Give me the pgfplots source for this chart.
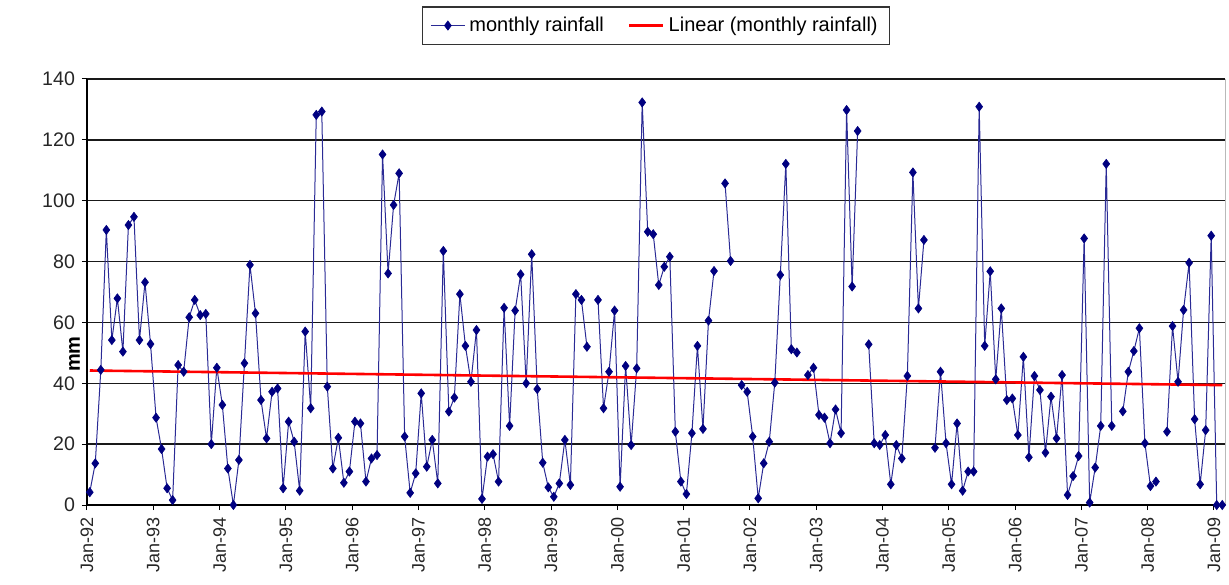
\documentclass[border=0pt]{standalone}
\usepackage{pgfplots}
\usepackage{pgfplotstable}
\pgfplotsset{compat=1.18}
\usepackage{fontspec}
\setmainfont{Liberation Sans}
\definecolor{rainblue}{HTML}{000080}
\definecolor{rainline}{HTML}{2A2A95}

\pgfplotstableread{
m v
0 4.2
1 13.7
2 44.4
3 90.4
4 54.2
5 67.9
6 50.4
7 92
8 94.7
9 54.2
10 73.2
11 52.9
12 28.7
13 18.4
14 5.5
15 1.6
16 46
17 43.8
18 61.7
19 67.4
20 62.4
21 62.8
22 20
23 45.1
24 32.9
25 12
26 0
27 14.8
28 46.6
29 78.9
30 63
31 34.5
32 21.9
33 37.2
34 38.3
35 5.5
36 27.4
37 20.8
38 4.7
39 57
40 31.8
41 128.2
42 129.3
43 38.9
44 12
45 22.1
46 7.3
47 11
48 27.4
49 26.8
50 7.7
51 15.3
52 16.4
53 115.2
54 76.1
55 98.6
56 109
57 22.5
58 4
59 10.4
60 36.7
61 12.6
62 21.4
63 7.1
64 83.5
65 30.7
66 35.3
67 69.3
68 52.3
69 40.5
70 57.5
71 2
72 15.9
73 16.7
74 7.7
75 64.8
76 26
77 63.9
78 75.8
79 40
80 82.4
81 38.1
82 13.9
83 5.8
84 2.7
85 7.1
86 21.4
87 6.6
88 69.3
89 67.4
90 52
91 nan
92 67.4
93 31.8
94 43.8
95 63.9
96 6
97 45.7
98 19.7
99 44.9
100 132.3
101 89.8
102 89
103 72.3
104 78.3
105 81.6
106 24.1
107 7.7
108 3.6
109 23.6
110 52.3
111 25
112 60.6
113 76.9
114 nan
115 105.7
116 80.2
117 nan
118 39.4
119 37.2
120 22.5
121 2.2
122 13.7
123 20.8
124 40.2
125 75.6
126 112.1
127 51.2
128 50.1
129 nan
130 42.7
131 45.1
132 29.6
133 28.7
134 20.3
135 31.4
136 23.6
137 129.8
138 71.8
139 122.9
140 nan
141 52.8
142 20.3
143 19.7
144 23
145 6.8
146 19.7
147 15.3
148 42.4
149 109.3
150 64.6
151 87.1
152 nan
153 18.8
154 43.8
155 20.3
156 6.8
157 26.8
158 4.7
159 11
160 11
161 130.9
162 52.3
163 76.8
164 41.3
165 64.6
166 34.5
167 35
168 23
169 48.7
170 15.7
171 42.4
172 37.8
173 17.2
174 35.6
175 21.9
176 42.7
177 3.3
178 9.5
179 16.1
180 87.6
181 0.8
182 12.3
183 26
184 112.1
185 26
186 nan
187 30.8
188 43.8
189 50.6
190 58.1
191 20.3
192 6.2
193 7.7
194 nan
195 24.1
196 58.8
197 40.5
198 64.1
199 79.6
200 28.2
201 6.8
202 24.6
203 88.5
204 0
205 0
}\rain

\pgfplotstableread{
m v
0.5 44.2
205.5 39.4
}\trend

\begin{document}
\begin{tikzpicture}
\begin{axis}[
  width=569pt, height=213pt, scale only axis,
  xmin=0, xmax=206, ymin=0, ymax=140,
  ytick={0,20,...,140},
  xtick={0,12,...,204},
  xticklabels={Jan-92,Jan-93,Jan-94,Jan-95,Jan-96,Jan-97,Jan-98,Jan-99,Jan-00,Jan-01,Jan-02,Jan-03,Jan-04,Jan-05,Jan-06,Jan-07,Jan-08,Jan-09},
  xticklabel style={rotate=90, anchor=east, font=\fontsize{9}{10}\selectfont, color=black!85},
  yticklabel style={font=\fontsize{9.8}{11}\selectfont, color=black!85},
  /pgf/number format/assume math mode=true,
  axis x line*=bottom, axis y line*=left,
  axis line style={black, line width=0.6pt},
  tick align=outside, major tick length=2.5pt,
  tick style={black, line width=0.5pt},
  ymajorgrids, major grid style={black!90, line width=0.65pt},
  extra x ticks={206}, extra x tick labels={},
  extra x tick style={xmajorgrids, major grid style={gray!55, line width=0.5pt}, major tick length=0pt},
  ylabel={\textbf{mm}},
  ylabel style={at={(axis description cs:0,0.5)}, anchor=south, xshift=-31pt, font=\fontsize{10}{12}\selectfont},
  unbounded coords=jump,
  legend style={at={(axis description cs:0.5,1)}, yshift=17pt, anchor=south, legend columns=2,
    draw=black!80, line width=0.7pt, font=\fontsize{10}{12}\selectfont,
    inner xsep=4pt, inner ysep=3pt,
    /tikz/every even column/.append style={column sep=10pt}},
  legend cell align=left,
]
\addplot[rainline, line width=0.5pt, mark=diamond*, mark size=2.3pt, mark options={fill=rainblue, draw=rainblue, line width=0.3pt}]
  table[x expr=\thisrow{m}+0.5, y=v] {\rain};
\addlegendentry{monthly rainfall}
\addplot[red, line width=1.3pt] table[x=m, y=v] {\trend};
\addlegendentry{Linear (monthly rainfall)}
\coordinate (bl) at (rel axis cs:0,0);
\coordinate (tr) at (rel axis cs:1,1);
\end{axis}
\pgfresetboundingbox
\path ([shift={(-43.5pt,-39.5pt)}]bl) rectangle ([shift={(2pt,39.5pt)}]tr);
\end{tikzpicture}
\end{document}
